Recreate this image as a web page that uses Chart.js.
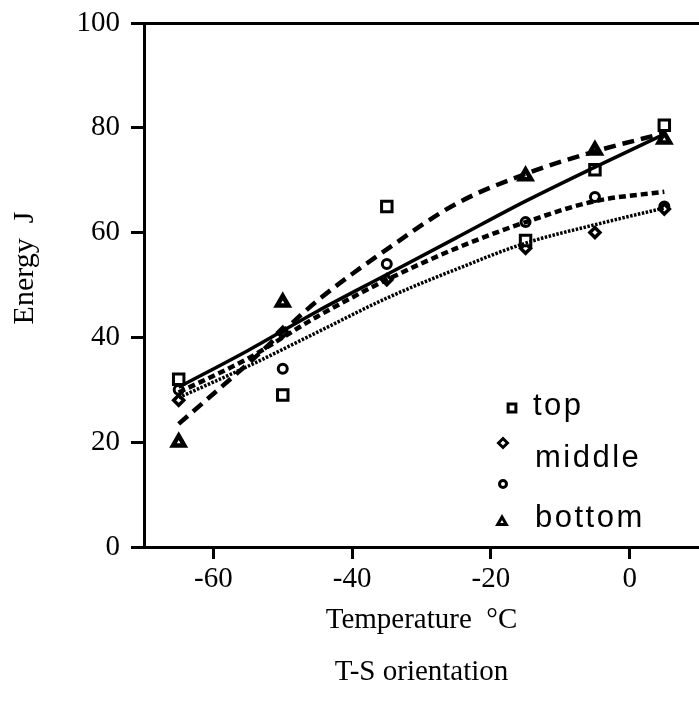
<!DOCTYPE html>
<html>
<head>
<meta charset="utf-8">
<script src="https://cdn.jsdelivr.net/npm/chart.js@4.4.0/dist/chart.umd.min.js"></script>
<style>
  html, body { margin: 0; padding: 0; background: #fff; }
  #wrap { width: 699px; height: 704px; }
</style>
</head>
<body>
<div id="wrap"><canvas id="energyChart" width="699" height="704"></canvas></div>
<script>
// test temperatures, deg C
const temps = [-65, -50, -35, -15, -5, 5];
// impact energy (J) by specimen position
const topVals    = [32, 29, 65, 58.5, 72, 80.5];
const middleVals = [28, 41, 51, 57, 60, 64.5];
const circleVals = [30, 34, 54, 62, 66.8, 65];
const bottomVals = [20, 46.7, null, 70.8, 75.7, 77.8];

// fitted curves
const fitTemps  = [-65, -55, -45, -35, -25, -15, -5, 5];
const fitTop    = [30.5, 37.5, 45, 52, 59, 66, 72.5, 78.8];
const fitBottom = [23.5, 35, 47, 56.8, 65.5, 71.2, 75.5, 79];
const fitCircle = [29.5, 36, 44, 51, 57, 62, 66, 67.8];
const fitMiddle = [28.5, 34.5, 41, 47.5, 53, 58, 61.5, 64.7];

const xTicks = [-60, -40, -20, 0];
const yTicks = [0, 20, 40, 60, 80, 100];

function pts(xs, ys) {
    return xs.map((x, i) => ({ x: x, y: ys[i] }));
}

const serif = 'Liberation Serif';

// y title + the little key inside the plot
const extras = {
    id: 'extras',
    afterDraw(chart) {
        const ctx = chart.ctx;
        ctx.save();
        ctx.fillStyle = '#000';
        ctx.strokeStyle = '#000';

        ctx.save();
        ctx.translate(25, 268);
        ctx.rotate(-Math.PI / 2);
        ctx.font = '30px "' + serif + '"';
        ctx.textAlign = 'center';
        ctx.textBaseline = 'middle';
        ctx.fillText('Energy  J', 0, 0);
        ctx.restore();

        const marks = [
            { pointStyle: 'rect', radius: 5.5, x: 512, y: 408 },
            { pointStyle: 'rectRot', radius: 4.5, x: 503, y: 443 },
            { pointStyle: 'circle', radius: 3.5, x: 503, y: 484 },
            { pointStyle: 'triangle', radius: 5, x: 502, y: 522 }
        ];
        marks.forEach(m => {
            ctx.fillStyle = '#fff';
            ctx.lineWidth = 3;
            Chart.helpers.drawPoint(ctx, { pointStyle: m.pointStyle, radius: m.radius, borderWidth: 3, rotation: 0 }, m.x, m.y);
        });

        ctx.fillStyle = '#000';
        ctx.font = '31px "Liberation Sans"';
        ctx.textAlign = 'left';
        ctx.textBaseline = 'alphabetic';
        ctx.letterSpacing = '2.5px';
        ctx.fillText('top', 533, 415);
        ctx.fillText('middle', 535, 467);
        ctx.fillText('bottom', 535, 527);
        ctx.restore();
    }
};

var ctx = document.getElementById('energyChart').getContext('2d');
var chart = new Chart(ctx, {
    type: 'scatter',
    data: {
        datasets: [
            {
                label: 'top fit',
                data: pts(fitTemps, fitTop),
                showLine: true,
                borderColor: '#000',
                borderWidth: 3.5,
                pointRadius: 0,
                cubicInterpolationMode: 'monotone'
            },
            {
                label: 'bottom fit',
                data: pts(fitTemps, fitBottom),
                showLine: true,
                borderColor: '#000',
                borderWidth: 4.5,
                borderDash: [12, 7],
                pointRadius: 0,
                cubicInterpolationMode: 'monotone'
            },
            {
                label: 'circle fit',
                data: pts(fitTemps, fitCircle),
                showLine: true,
                borderColor: '#000',
                borderWidth: 4.5,
                borderDash: [7, 4],
                pointRadius: 0,
                cubicInterpolationMode: 'monotone'
            },
            {
                label: 'middle fit',
                data: pts(fitTemps, fitMiddle),
                showLine: true,
                borderColor: '#000',
                borderWidth: 3.5,
                borderDash: [2.5, 1.5],
                pointRadius: 0,
                cubicInterpolationMode: 'monotone'
            },
            {
                label: 'top',
                data: pts(temps, topVals),
                pointStyle: 'rect',
                pointRadius: 7.4,
                borderWidth: 3,
                borderColor: '#000',
                backgroundColor: '#fff'
            },
            {
                label: 'middle',
                data: pts(temps, middleVals),
                pointStyle: 'rectRot',
                pointRadius: 5,
                borderWidth: 3.5,
                borderColor: '#000',
                backgroundColor: '#fff'
            },
            {
                label: 'circle',
                data: pts(temps, circleVals),
                pointStyle: 'circle',
                pointRadius: 4.5,
                borderWidth: 3,
                borderColor: '#000',
                backgroundColor: '#fff'
            },
            {
                label: 'bottom',
                data: pts(temps, bottomVals),
                pointStyle: 'triangle',
                pointRadius: 6.5,
                borderWidth: 4.5,
                borderColor: '#000',
                backgroundColor: '#fff'
            }
        ]
    },
    options: {
        responsive: false,
        animation: false,
        layout: { autoPadding: false, padding: { top: 23, right: 0, left: 0, bottom: 0 } },
        plugins: {
            legend: { display: false },
            tooltip: { enabled: false }
        },
        scales: {
            x: {
                type: 'linear',
                min: -70,
                max: 10,
                afterBuildTicks: function (scale) {
                    scale.ticks = xTicks.map(v => ({ value: v }));
                },
                afterFit: function (scale) {
                    scale.height = 157;
                    scale.paddingLeft = 0;
                    scale.paddingRight = 0;
                },
                border: { color: '#000', width: 3 },
                grid: {
                    drawOnChartArea: false,
                    tickLength: 12,
                    tickWidth: 3,
                    tickColor: '#000'
                },
                ticks: {
                    color: '#000',
                    padding: 3,
                    font: { family: serif, size: 29 }
                },
                title: {
                    display: true,
                    text: ['Temperature  \u00B0C', 'T-S orientation'],
                    color: '#000',
                    font: { family: serif, size: 29, lineHeight: '52px' },
                    padding: { top: 0, bottom: 6 }
                }
            },
            y: {
                min: 0,
                max: 100,
                afterBuildTicks: function (scale) {
                    scale.ticks = yTicks.map(v => ({ value: v }));
                },
                afterFit: function (scale) {
                    scale.width = 144;
                    scale.paddingTop = 0;
                    scale.paddingBottom = 0;
                },
                border: { color: '#000', width: 3 },
                grid: {
                    color: function (c) {
                        return c.tick && c.tick.value === 100 ? '#000' : 'rgba(0,0,0,0)';
                    },
                    lineWidth: 3,
                    tickLength: 13,
                    tickWidth: 3,
                    tickColor: '#000'
                },
                ticks: {
                    color: '#000',
                    padding: 11,
                    font: { family: serif, size: 29 }
                }
            }
        }
    },
    plugins: [extras]
});
</script>
</body>
</html>
